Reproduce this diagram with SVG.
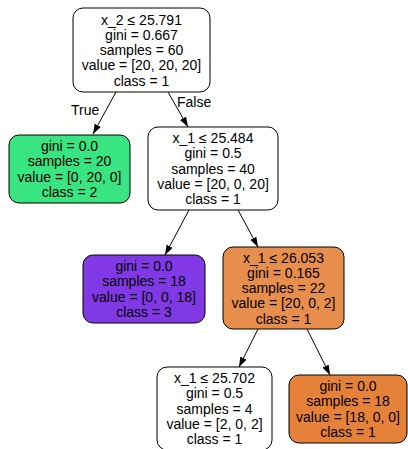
<svg xmlns="http://www.w3.org/2000/svg" width="408" height="449" viewBox="0 0 408 449">
  <style>
    .box { stroke: #000; stroke-width: 1; }
    .lbl { font-family: "Liberation Sans", Arial, sans-serif; font-size: 14px; fill: #000; text-anchor: middle; }
    .elbl { font-family: "Liberation Sans", Arial, sans-serif; font-size: 14px; fill: #000; }
    .edge { stroke: #000; stroke-width: 1; fill: none; marker-end: url(#arrow); }
  </style>
  <defs>
    <marker id="arrow" markerUnits="userSpaceOnUse" markerWidth="11" markerHeight="8" refX="10" refY="3.5" orient="auto">
      <path d="M0,0 L10,3.5 L0,7 z" fill="#000"/>
    </marker>
  </defs>
  <rect width="408" height="449" fill="#fff"/>

  <g id="edges">
    <line class="edge" x1="116" y1="92" x2="93" y2="134"/>
    <line class="edge" x1="168" y1="92" x2="188" y2="127"/>
    <line class="edge" x1="189" y1="210" x2="165" y2="255"/>
    <line class="edge" x1="238" y1="210" x2="258" y2="247"/>
    <line class="edge" x1="258" y1="329" x2="239" y2="367"/>
    <line class="edge" x1="307" y1="329" x2="330" y2="375"/>
    <text class="elbl" x="71" y="115">True</text>
    <text class="elbl" x="177" y="107">False</text>
  </g>

  <g id="node0">
    <rect class="box" x="73" y="8" width="137" height="84" rx="10" fill="#ffffff"/>
    <text class="lbl" x="141.5" y="24.5">x_2 ≤ 25.791</text>
    <text class="lbl" x="141.5" y="39.8">gini = 0.667</text>
    <text class="lbl" x="141.5" y="55.1">samples = 60</text>
    <text class="lbl" x="141.5" y="70.4">value = [20, 20, 20]</text>
    <text class="lbl" x="141.5" y="85.7">class = 1</text>
  </g>

  <g id="node1">
    <rect class="box" x="9" y="135" width="121" height="68" rx="10" fill="#39e581"/>
    <text class="lbl" x="69.5" y="151">gini = 0.0</text>
    <text class="lbl" x="69.5" y="166.3">samples = 20</text>
    <text class="lbl" x="69.5" y="181.6">value = [0, 20, 0]</text>
    <text class="lbl" x="69.5" y="196.9">class = 2</text>
  </g>

  <g id="node2">
    <rect class="box" x="148" y="127" width="130" height="83" rx="10" fill="#ffffff"/>
    <text class="lbl" x="213" y="143">x_1 ≤ 25.484</text>
    <text class="lbl" x="213" y="158.3">gini = 0.5</text>
    <text class="lbl" x="213" y="173.6">samples = 40</text>
    <text class="lbl" x="213" y="188.9">value = [20, 0, 20]</text>
    <text class="lbl" x="213" y="204.2">class = 1</text>
  </g>

  <g id="node3">
    <rect class="box" x="83" y="255" width="122" height="68" rx="10" fill="#8139e5"/>
    <text class="lbl" x="144" y="271">gini = 0.0</text>
    <text class="lbl" x="144" y="286.3">samples = 18</text>
    <text class="lbl" x="144" y="301.6">value = [0, 0, 18]</text>
    <text class="lbl" x="144" y="316.9">class = 3</text>
  </g>

  <g id="node4">
    <rect class="box" x="223" y="247" width="121" height="82" rx="10" fill="#e88e4d"/>
    <text class="lbl" x="283.5" y="262.5">x_1 ≤ 26.053</text>
    <text class="lbl" x="283.5" y="277.8">gini = 0.165</text>
    <text class="lbl" x="283.5" y="293.1">samples = 22</text>
    <text class="lbl" x="283.5" y="308.4">value = [20, 0, 2]</text>
    <text class="lbl" x="283.5" y="323.7">class = 1</text>
  </g>

  <g id="node5">
    <rect class="box" x="157" y="367" width="115" height="83" rx="10" fill="#ffffff"/>
    <text class="lbl" x="214.5" y="383">x_1 ≤ 25.702</text>
    <text class="lbl" x="214.5" y="398.3">gini = 0.5</text>
    <text class="lbl" x="214.5" y="413.6">samples = 4</text>
    <text class="lbl" x="214.5" y="428.9">value = [2, 0, 2]</text>
    <text class="lbl" x="214.5" y="444.2">class = 1</text>
  </g>

  <g id="node6">
    <rect class="box" x="289" y="375" width="118" height="68" rx="10" fill="#e58139"/>
    <text class="lbl" x="348" y="391">gini = 0.0</text>
    <text class="lbl" x="348" y="406.3">samples = 18</text>
    <text class="lbl" x="348" y="421.6">value = [18, 0, 0]</text>
    <text class="lbl" x="348" y="436.9">class = 1</text>
  </g>
</svg>
